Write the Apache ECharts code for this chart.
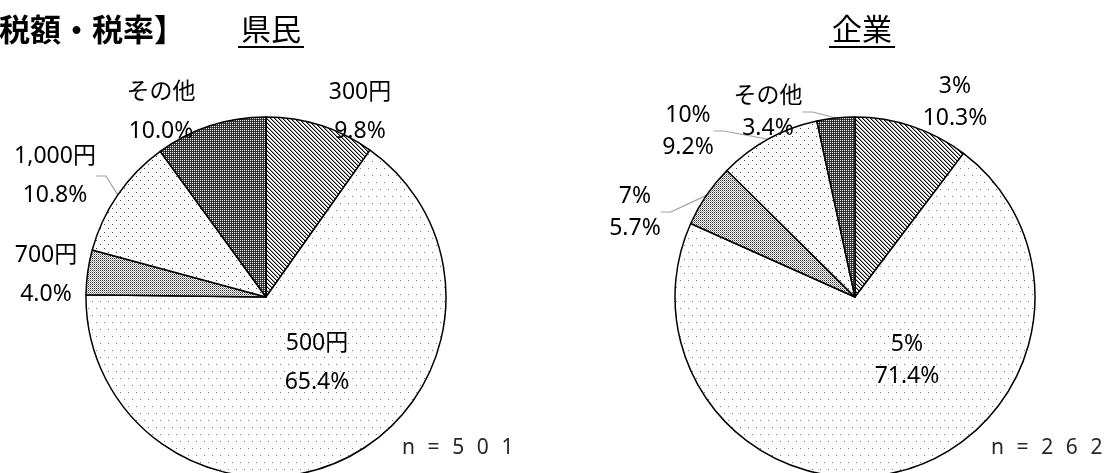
<!DOCTYPE html>
<html>
<head>
<meta charset="utf-8">
<script src="https://cdn.jsdelivr.net/npm/echarts@6/dist/echarts.min.js"></script>
<style>
  html, body { margin: 0; padding: 0; background: #fff; }
  #chart { width: 1104px; height: 473px; }
</style>
</head>
<body>
<div id="chart"></div>
<script>
// data
var residentNames = ['300円', '500円', '700円', '1,000円', 'その他'];
var residentShares = [9.8, 65.4, 4.0, 10.8, 10.0];
var companyNames = ['3%', '5%', '7%', '10%', 'その他'];
var companyShares = [10.3, 71.4, 5.7, 9.2, 3.4];
var sampleSizes = [501, 262];
var groupTitles = ['県民', '企業'];
var headingText = '税額・税率】';

// label placement (center of the two-line block) and leader lines
var residentLabelPos = [[360, 112], [317, 363], [46, 275], [55, 176], [161, 112]];
var companyLabelPos = [[955, 102], [907, 360], [635, 212], [688, 131], [768, 112]];
var residentLeader = [false, false, false, true, false];
var companyLeader = [false, false, true, true, true];

var FONT = "'Noto Sans', 'Noto Sans CJK JP', sans-serif";
var JP = "'Noto Sans CJK JP', sans-serif";

// monochrome fill patterns, one per slice position
function makeTile(w, h, draw) {
  var c = document.createElement('canvas');
  c.width = w; c.height = h;
  var ctx = c.getContext('2d');
  ctx.fillStyle = '#fff';
  ctx.fillRect(0, 0, w, h);
  draw(ctx);
  return c;
}
function px(ctx, x, y, col) { ctx.fillStyle = col; ctx.fillRect(x, y, 1, 1); }

var patterns = [
  // diagonal hatch
  makeTile(4, 4, function (ctx) {
    for (var i = 0; i < 4; i++) { px(ctx, i, i, '#000'); px(ctx, (i + 1) % 4, i, '#999'); }
  }),
  // sparse dots
  makeTile(8, 14, function (ctx) { px(ctx, 0, 0, '#777'); px(ctx, 4, 7, '#777'); }),
  // dense fine dots
  makeTile(2, 2, function (ctx) { px(ctx, 0, 0, '#333'); px(ctx, 1, 1, '#999'); }),
  // medium dots
  makeTile(8, 8, function (ctx) { px(ctx, 0, 0, '#444'); px(ctx, 4, 4, '#444'); }),
  // dark
  makeTile(2, 2, function (ctx) {
    px(ctx, 0, 0, '#eee'); px(ctx, 1, 0, '#3a3a3a'); px(ctx, 0, 1, '#3a3a3a'); px(ctx, 1, 1, '#2a2a2a');
  })
];

function buildData(names, shares, leaders) {
  return names.map(function (n, i) {
    return {
      name: n,
      value: shares[i],
      itemStyle: { color: { image: patterns[i], repeat: 'repeat' } },
      labelLine: { show: leaders[i] }
    };
  });
}

function pieSeries(center, names, shares, leaders, labelPos, lineHeight) {
  return {
    type: 'pie',
    center: center,
    radius: 180,
    startAngle: 90,
    clockwise: true,
    avoidLabelOverlap: false,
    animation: false,
    silent: true,
    emphasis: { disabled: true },
    itemStyle: { borderColor: '#000', borderWidth: 1.5 },
    label: {
      show: true,
      position: 'outside',
      fontFamily: FONT,
      fontSize: 23,
      color: '#000',
      lineHeight: lineHeight,
      align: 'center',
      formatter: function (p) { return p.name + '\n' + p.value.toFixed(1) + '%'; }
    },
    labelLine: {
      show: true,
      length: 10,
      length2: 10,
      minTurnAngle: 0,
      lineStyle: { color: '#a0a0a0', width: 1.2 }
    },
    labelLayout: function (params) {
      var p = labelPos[params.dataIndex];
      return { x: p[0], y: p[1], align: 'center', verticalAlign: 'middle' };
    },
    data: buildData(names, shares, leaders)
  };
}

// "n = 5 0 1" style: characters spread out
function spread(str) {
  return str.split('').join('\u2002\u200a');
}

var chart = echarts.init(document.getElementById('chart'), null, { renderer: 'canvas' });
chart.setOption({
  backgroundColor: '#fff',
  series: [
    pieSeries([266, 297], residentNames, residentShares, residentLeader, residentLabelPos, 39),
    pieSeries([855, 297], companyNames, companyShares, companyLeader, companyLabelPos, 32)
  ],
  graphic: [
    { type: 'text', x: -1, y: 29, style: { text: headingText, font: 'bold 31px ' + JP, fill: '#000', verticalAlign: 'middle' } },
    { type: 'text', x: 271, y: 29, style: { text: groupTitles[0], font: '30px ' + JP, fill: '#000', align: 'center', verticalAlign: 'middle' } },
    { type: 'line', shape: { x1: 238, y1: 47, x2: 304, y2: 47 }, style: { stroke: '#000', lineWidth: 2 } },
    { type: 'text', x: 862, y: 29, style: { text: groupTitles[1], font: '30px ' + JP, fill: '#000', align: 'center', verticalAlign: 'middle' } },
    { type: 'line', shape: { x1: 829, y1: 47, x2: 895, y2: 47 }, style: { stroke: '#000', lineWidth: 2 } },
    { type: 'text', x: 402, y: 448, style: { text: spread('n=' + sampleSizes[0]), font: '21px ' + FONT, fill: '#262626', verticalAlign: 'middle' } },
    { type: 'text', x: 991, y: 448, style: { text: spread('n=' + sampleSizes[1]), font: '21px ' + FONT, fill: '#262626', verticalAlign: 'middle' } }
  ]
});
window.addEventListener('resize', function () { chart.resize(); });
</script>
</body>
</html>
